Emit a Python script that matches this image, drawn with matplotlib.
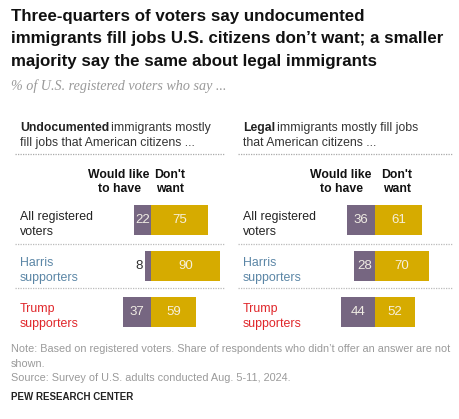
import matplotlib
matplotlib.use("Agg")
import matplotlib.pyplot as plt

plt.rcParams['font.family'] = ['Liberation Sans', 'DejaVu Sans']

groups = ["All registered\nvoters", "Harris\nsupporters", "Trump\nsupporters"]
group_colors = ["#222222", "#5b86a6", "#e0262a"]
undoc_like = [22, 8, 37]
undoc_dont = [75, 90, 59]
legal_like = [36, 28, 44]
legal_dont = [61, 70, 52]

PURPLE = "#766681"
GOLD = "#d6ab00"
W, H = 459, 419

fig = plt.figure(figsize=(W / 100, H / 100), dpi=100)
bg = fig.add_axes([0, 0, 1, 1])
bg.set_xlim(0, W)
bg.set_ylim(H, 0)
bg.axis("off")


def px_axes(left, top, width, height):
    return fig.add_axes([left / W, 1 - (top + height) / H, width / W, height / H])


# title and subtitle
title = ("Three-quarters of voters say undocumented\n"
         "immigrants fill jobs U.S. citizens don\u2019t want; a smaller\n"
         "majority say the same about legal immigrants")
bg.text(11, 9, title, fontsize=12.2, fontweight="bold", va="top", ha="left",
        linespacing=1.62, color="#111111")
bg.text(11, 86, "% of U.S. registered voters who say ...", fontsize=10.2,
        style="italic", family="Liberation Serif", color="#999999", va="center")


def panel(x0, x1, zero_px, xmin, bold, rest, line2, like, dont, col_like, col_dont):
    t = bg.text(x0 + 5, 128, bold, fontsize=8.8, fontweight="bold", va="center",
                color="#222222")
    fig.canvas.draw()
    bb = t.get_window_extent()
    bx = bb.x1 * W / fig.bbox.width
    bg.text(bx + 2, 128, rest, fontsize=8.8, va="center", color="#333333")
    bg.text(x0 + 5, 143, line2, fontsize=8.8, va="center", color="#333333")
    bg.plot([x0, x1], [154, 154], ls=(0, (1, 1)), color="#aaaaaa", lw=0.9)
    for y in (244, 288):
        bg.plot([x0, x1], [y, y], ls=(0, (1, 1)), color="#bbbbbb", lw=0.9)

    bg.text(col_like, 182, "Would like\nto have", ha="center", va="center",
            fontsize=8.8, fontweight="bold", linespacing=1.15, color="#111111")
    bg.text(col_dont, 182, "Don't\nwant", ha="center", va="center",
            fontsize=8.8, fontweight="bold", linespacing=1.15, color="#111111")

    scale = 0.765
    ax = px_axes(zero_px + xmin * scale, 197, (100 - xmin) * scale, 138)
    ax.set_xlim(xmin, 100)
    ax.set_ylim(2.5, -0.5)
    ax.axis("off")
    rows = range(len(groups))
    ax.barh(rows, [-v for v in like], height=0.65, color=PURPLE)
    ax.barh(rows, dont, height=0.65, color=GOLD)
    for i in rows:
        if like[i] >= 12:
            ax.text(-like[i] / 2, i, str(like[i]), ha="center", va="center",
                    fontsize=9.5, color="#f0ece4")
        else:
            ax.text(-like[i] - 3, i, str(like[i]), ha="right", va="center",
                    fontsize=9.5, color="#333333")
        ax.text(dont[i] / 2, i, str(dont[i]), ha="center", va="center",
                fontsize=9.5, color="#f7f0dc")

    for i, g in enumerate(groups):
        ax.text((x0 + 5 - zero_px) / scale, i + 0.09, g, ha="left", va="center",
                fontsize=8.9, linespacing=1.35, color=group_colors[i])


panel(15, 225, 151, -40, "Undocumented", "immigrants mostly",
      "fill jobs that American citizens ...", undoc_like, undoc_dont, 119, 170)
panel(238, 452, 375, -50, "Legal", "immigrants mostly fill jobs",
      "that American citizens ...", legal_like, legal_dont, 341, 397)

note = ("Note: Based on registered voters. Share of respondents who didn\u2019t offer an answer are not\n"
        "shown.\n"
        "Source: Survey of U.S. adults conducted Aug. 5-11, 2024.")
bg.text(11, 344, note, fontsize=7.8, color="#9a9a9a", va="top", linespacing=1.58)
bg.text(11, 397, "PEW RESEARCH CENTER", fontsize=7, fontweight="bold",
        color="#222222", va="center")

fig.savefig("out.png", dpi=100)
